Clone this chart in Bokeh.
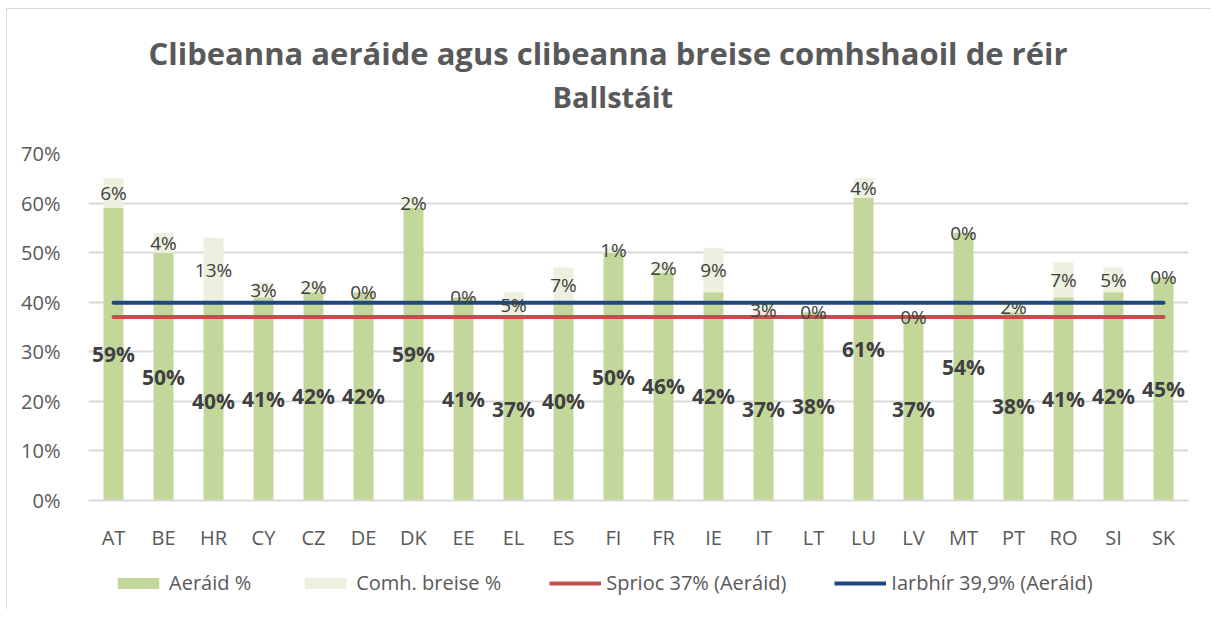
from bokeh.plotting import figure
from bokeh.layouts import column
from bokeh.models import (ColumnDataSource, FactorRange, Range1d, Title, Legend,
                          LegendItem, PrintfTickFormatter, FixedTicker)
from bokeh.core.properties import value
from bokeh.embed import file_html
from bokeh.resources import INLINE

# ---- data (percent) ----
countries = ["AT", "BE", "HR", "CY", "CZ", "DE", "DK", "EE", "EL", "ES", "FI",
             "FR", "IE", "IT", "LT", "LU", "LV", "MT", "PT", "RO", "SI", "SK"]
climate = [59, 50, 40, 41, 42, 42, 59, 41, 37, 40, 50,
           46, 42, 37, 38, 61, 37, 54, 38, 41, 42, 45]
extra = [6, 4, 13, 3, 2, 0, 2, 0, 5, 7, 1,
         2, 9, 3, 0, 4, 0, 0, 2, 7, 5, 0]
target_pct = 37.0
actual_pct = 39.9
y_ticks = [0, 10, 20, 30, 40, 50, 60, 70]

title_line1 = "Clibeanna aeráide agus clibeanna breise comhshaoil de réir"
title_line2 = "Ballstáit"
series_names = ["Aeráid %", "Comh. breise %", "Sprioc 37% (Aeráid)", "Iarbhír 39,9% (Aeráid)"]

FONT = "Open Sans"
GREEN = "#C4D79B"
LIGHT = "#EBF1DE"
RED = "#C0504D"
BLUE = "#1F497D"
TXT = "#595959"
LBL = "#404040"
EDGE = "1px solid #D9D9D9"

src = ColumnDataSource(dict(
    cat=countries,
    climate=climate,
    extra=extra,
    base_y=[c / 2 for c in climate],
    base_txt=[f"{c:.0f}%" for c in climate],
    top_y=[c + e / 2 for c, e in zip(climate, extra)],
    top_txt=[f"{e:.0f}%" for e in extra],
    target=[target_pct] * len(countries),
    actual=[actual_pct] * len(countries),
))

p = figure(x_range=FactorRange(*countries), y_range=Range1d(0, 70),
           width=1205, height=546, output_backend="svg", toolbar_location=None,
           title=None, min_border_left=81, min_border_right=24,
           min_border_top=144, min_border_bottom=55)
p.outline_line_color = None
p.background_fill_color = "white"
p.border_fill_color = "white"
p.styles = {"margin-left": "6px", "margin-top": "8px",
            "border-left": EDGE, "border-top": EDGE}

# titles (first added is closest to the frame)
t2 = Title(text=title_line2, align="left", text_font=FONT, text_font_size="29px",
           text_font_style="bold", text_color=TXT, standoff=75, offset=464)
t1 = Title(text=title_line1, align="left", text_font=FONT, text_font_size="31px",
           text_font_style="bold", text_color=TXT, standoff=-73, offset=60)
p.add_layout(t2, "above")
p.add_layout(t1, "above")

bars = p.vbar_stack(["climate", "extra"], x="cat", width=0.4, source=src,
                    color=[GREEN, LIGHT], line_color=None)

l_target = p.line(x="cat", y="target", source=src, line_color=RED, line_width=4,
                  line_cap="round")
l_actual = p.line(x="cat", y="actual", source=src, line_color=BLUE, line_width=4,
                  line_cap="round")

p.text(x="cat", y="base_y", text="base_txt", source=src, text_align="center",
       text_baseline="middle", text_font=value(FONT), text_font_size="21px",
       text_font_style="bold", text_color=LBL)
p.text(x="cat", y="top_y", text="top_txt", source=src, text_align="center",
       text_baseline="middle", text_font=value(FONT), text_font_size="19px",
       text_color=LBL)

# axes
p.yaxis.ticker = FixedTicker(ticks=y_ticks)
p.yaxis.formatter = PrintfTickFormatter(format="%d%%")
p.yaxis.axis_line_color = None
p.yaxis.major_tick_line_color = None
p.yaxis.minor_tick_line_color = None
p.yaxis.major_label_text_font = FONT
p.yaxis.major_label_text_font_size = "20px"
p.yaxis.major_label_text_color = TXT
p.yaxis.major_label_standoff = 22

p.xaxis.axis_line_color = "#D9D9D9"
p.xaxis.axis_line_width = 2
p.xaxis.major_tick_line_color = None
p.xaxis.minor_tick_line_color = None
p.xaxis.major_label_text_font = FONT
p.xaxis.major_label_text_font_size = "20px"
p.xaxis.major_label_text_color = TXT
p.xaxis.major_label_standoff = 17

p.xgrid.grid_line_color = None
p.ygrid.grid_line_color = "#D9D9D9"
p.ygrid.grid_line_width = 2

# ---- legend strip below the chart: same series, drawn outside its visible range ----
q = figure(width=1205, height=55, output_backend="svg", toolbar_location=None,
           x_range=FactorRange(*countries), y_range=Range1d(100, 101),
           x_axis_type=None, y_axis_type=None, min_border=0, title=None)
q.outline_line_color = None
q.grid.grid_line_color = None
q.styles = {"margin-left": "6px", "border-left": EDGE}
lg_bars = q.vbar_stack(["climate", "extra"], x="cat", width=0.4, source=src,
                       color=[GREEN, LIGHT], line_color=None)
lg_red = q.line(x="cat", y="target", source=src, line_color=RED, line_width=4)
lg_blue = q.line(x="cat", y="actual", source=src, line_color=BLUE, line_width=4)

legend = Legend(items=[
    LegendItem(label=series_names[0], renderers=[lg_bars[0]]),
    LegendItem(label=series_names[1], renderers=[lg_bars[1]]),
    LegendItem(label=series_names[2], renderers=[lg_red]),
    LegendItem(label=series_names[3], renderers=[lg_blue]),
], orientation="horizontal", location=(24, 13), border_line_color=None,
    background_fill_alpha=0, glyph_width=52, glyph_height=14, label_standoff=5,
    spacing=48, label_text_font=FONT, label_text_font_size="20px",
    label_text_color=TXT, margin=0, padding=4)
q.add_layout(legend, "center")

layout = column(p, q, spacing=0)
open("out.html", "w").write(file_html(layout, INLINE))
